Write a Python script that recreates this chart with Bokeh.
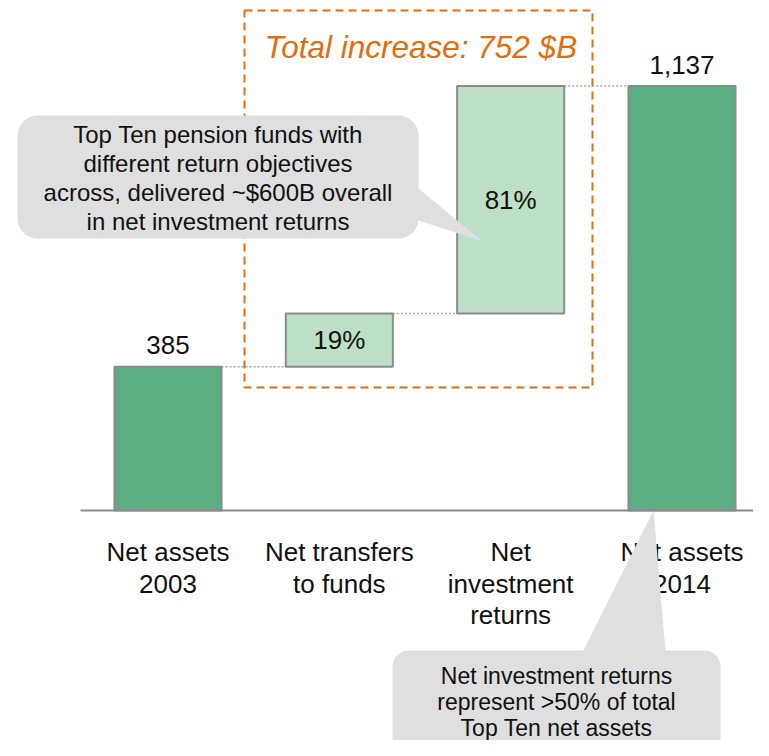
import numpy as np
from bokeh.plotting import figure
from bokeh.models import Range1d
from bokeh.core.properties import value
from bokeh.embed import file_html
from bokeh.resources import INLINE

# ---------------- data ----------------
categories = ["Net assets\n2003", "Net transfers\nto funds", "Net\ninvestment\nreturns", "Net assets\n2014"]
step_values = [385, 143, 609, 1137]          # start total, transfers, returns, end total
step_kinds = ["total", "delta", "delta", "total"]
value_labels = ["385", None, None, "1,137"]
title_text = "Total increase: {} $B"
callout1_lines = ["Top Ten pension funds with", "different return objectives",
                  "across, delivered ~$600B overall", "in net investment returns"]
callout2_lines = ["Net investment returns", "represent >50% of total", "Top Ten net assets"]

# ---------------- derived waterfall ----------------
bottoms, tops = [], []
level = 0
for v, k in zip(step_values, step_kinds):
    if k == "total":
        bottoms.append(0); tops.append(v); level = v
    else:
        bottoms.append(level); tops.append(level + v); level += v
total_increase = step_values[-1] - step_values[0]
xs = list(range(len(categories)))

# ---------------- geometry ----------------
W, H = 753, 740
KX = 171.33
KY = 0.3733
X0 = -167.5 / KX
X1 = X0 + W / KX
Y1 = 510 / KY
Y0 = Y1 - H / KY

def dx(px):
    return X0 + px / KX

def dy(py):
    return Y1 - py / KY

FONT = value("Liberation Sans")
DARK = "#5BAD82"
LIGHT = "#BDDFC5"
EDGE = "#8C8C8C"
ORANGE = "#E46C0A"
CALLOUT = "#DFDFDF"
TXT = "#111111"

p = figure(width=W, height=H, x_range=Range1d(X0, X1), y_range=Range1d(Y0, Y1),
           output_backend="svg", toolbar_location=None,
           x_axis_location=None, y_axis_location=None, min_border=0)
p.min_border_left = p.min_border_right = p.min_border_top = p.min_border_bottom = 0
p.grid.visible = False
p.outline_line_color = None
p.background_fill_color = "white"

# orange dashed box (behind callout)
p.quad(left=[dx(244)], right=[dx(592)], top=[dy(10)], bottom=[dy(387)],
       fill_color=None, line_color=ORANGE, line_width=2, line_dash="8 5")

# dotted connectors
bw = 0.625
cx0 = [i + bw / 2 for i in xs[:-1]]
cx1 = [i + 1 - bw / 2 for i in xs[:-1]]
cy = [tops[i] for i in xs[:-1]]
p.segment(x0=cx0, y0=cy, x1=cx1, y1=cy, line_color="#A6A6A6", line_width=1.5, line_dash="2 2")

# bars
colors = [DARK if k == "total" else LIGHT for k in step_kinds]
p.vbar(x=xs, bottom=bottoms, top=tops, width=bw, fill_color=colors,
       line_color=EDGE, line_width=2)

# baseline
p.segment(x0=[dx(80)], y0=[0], x1=[dx(790)], y1=[0], line_color=EDGE, line_width=2)

common = dict(text_font=FONT, text_align="center", text_baseline="middle", text_color=TXT)

# value labels for totals
tx = [i for i in xs if value_labels[i]]
p.text(x=tx, y=[tops[i] + 21.5 / KY for i in tx], text=[value_labels[i] for i in tx],
       text_font_size=value("26px"), **common)

# percent labels for deltas
dxs = [i for i in xs if step_kinds[i] == "delta"]
p.text(x=dxs, y=[(bottoms[i] + tops[i]) / 2 for i in dxs],
       text=[f"{round(100 * step_values[i] / total_increase)}%" for i in dxs],
       text_font_size=value("26px"), **common)

# category labels
lx, ly, lt = [], [], []
for i, c in enumerate(categories):
    for j, line in enumerate(c.split("\n")):
        lx.append(i); ly.append(-(41.5 + 31.5 * j) / KY); lt.append(line)
p.text(x=lx, y=ly, text=lt, text_font_size=value("26px"), **common)

# title
p.text(x=[dx(420.5)], y=[dy(46)], text=[title_text.format(total_increase)],
       text_font=FONT, text_font_size=value("31.5px"), text_font_style="italic",
       text_align="center", text_baseline="middle", text_color=ORANGE)

# callouts
def arc(cx, cy, r, a0, a1, n=10):
    a = np.radians(np.linspace(a0, a1, n))
    return list(cx + r * np.cos(a)), list(cy + r * np.sin(a))

def callout(l, t, r, b, rad, edge, p1, tip, p2):
    X, Y = [], []
    X += [l + rad]; Y += [t]
    if edge == "top":
        X += [p1, tip[0], p2]; Y += [t, tip[1], t]
    ax, ay = arc(r - rad, t + rad, rad, -90, 0); X += ax; Y += ay
    if edge == "right":
        X += [r, tip[0], r]; Y += [p1, tip[1], p2]
    ax, ay = arc(r - rad, b - rad, rad, 0, 90); X += ax; Y += ay
    ax, ay = arc(l + rad, b - rad, rad, 90, 180); X += ax; Y += ay
    ax, ay = arc(l + rad, t + rad, rad, 180, 270); X += ax; Y += ay
    return [dx(v) for v in X], [dy(v) for v in Y]

c1x, c1y = callout(17, 115, 418, 238, 20, "right", 188, (482, 241), 220)
p.patch(c1x, c1y, fill_color=CALLOUT, line_color=None)
c2x, c2y = callout(392, 650, 720, 790, 16, "top", 583, (653, 510), 665)
p.patch(c2x, c2y, fill_color=CALLOUT, line_color=None)

p.text(x=[dx(217.5)] * len(callout1_lines),
       y=[dy(133.5 + 29 * j) for j in range(len(callout1_lines))], text=callout1_lines,
       text_font_size=value("24px"), **common)
p.text(x=[dx(556)] * len(callout2_lines),
       y=[dy(675 + 26 * j) for j in range(len(callout2_lines))], text=callout2_lines,
       text_font_size=value("23px"), **common)

open("out.html", "w").write(file_html(p, INLINE))
